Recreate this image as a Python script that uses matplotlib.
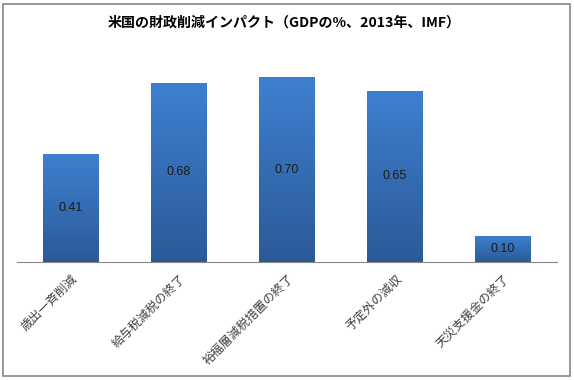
import matplotlib.pyplot as plt
import matplotlib.patches as mpatches
import numpy as np

plt.rcParams['font.family'] = ['Noto Sans CJK JP', 'DejaVu Sans']

categories = ['歳出一斉削減', '給与税減税の終了', '裕福層減税措置の終了', '予定外の減収', '天災支援金の終了']
values = [0.41, 0.68, 0.70, 0.65, 0.10]
title = '米国の財政削減インパクト（GDPの%、2013年、IMF）'

fig = plt.figure(figsize=(5.74, 3.8), dpi=100)
ax = fig.add_axes([17 / 574, 118 / 380, 540 / 574, 211 / 380])

x = np.arange(len(categories))
bars = ax.bar(x, values, width=0.51, color='#3670BA', zorder=2)

# vertical gradient, lighter at the top
grad = np.linspace(0, 1, 256).reshape(-1, 1)
cmap = plt.matplotlib.colors.LinearSegmentedColormap.from_list('b', ['#2B5A97', '#3E80D0'])
for b in bars:
    x0, y0 = b.get_x(), b.get_y()
    w, h = b.get_width(), b.get_height()
    im = ax.imshow(grad, cmap=cmap, aspect='auto', origin='lower',
                   extent=[x0, x0 + w, y0, y0 + h], zorder=3)
    im.set_clip_path(b)
    ax.text(x0 + w / 2, y0 + h / 2, f'{b.get_height():.2f}', ha='center', va='center',
            fontsize=9, color='#1a1a1a', family='Liberation Sans', zorder=4)

ax.set_xlim(-0.5, len(categories) - 0.5)
ax.set_ylim(0, 0.8)
ax.set_yticks([])
ax.set_xticks(x)
ax.set_xticklabels(categories, rotation=45, ha='right', rotation_mode='anchor',
                   fontsize=8.8, color='#404040')
ax.tick_params(axis='x', length=0, pad=7)
for s in ['top', 'right', 'left']:
    ax.spines[s].set_visible(False)
ax.spines['bottom'].set_color('#888888')

fig.text(284 / 574, 1 - 23 / 380, title, ha='center', va='center', fontsize=10.1, fontweight='bold')

fig.patches.append(mpatches.Rectangle((3 / 574, 4 / 380), 567 / 574, 372 / 380, transform=fig.transFigure,
                                      fill=False, edgecolor='#888888', linewidth=1.2))

fig.savefig('out.png', dpi=100)
